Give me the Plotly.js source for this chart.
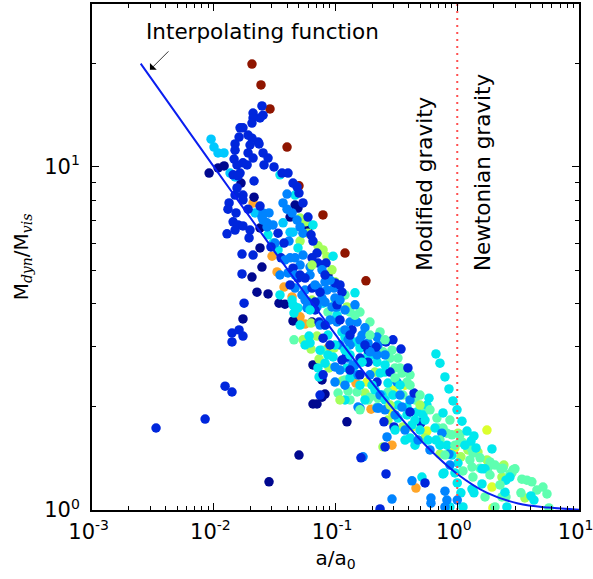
<!DOCTYPE html>
<html><head><meta charset="utf-8">
<script src="https://cdn.plot.ly/plotly-3.0.1.min.js"></script>
<style>html,body{margin:0;padding:0;background:#fff}</style></head>
<body><div id="chart" style="width:593px;height:579px"></div>
<script>
// all values are log10 of a/a0 (A) and of Mdyn/Mvis (M)
const redA=[-1.686,-1.612,-1.538,-1.398,-1.300,-1.103,-.922,-.750];
const redM=[1.300,1.239,1.169,1.058,.945,.860,.749,.668];
const orangeA=[-1.677,-1.521,-1.480,-1.423,-1.357,-1.291,-1.250,-1.062,-.832,-.708,-.536,-.339];
const orangeM=[.895,.740,.694,.650,.621,.563,.542,.472,.370,.294,.189,.064];
const navyA=[-2.038,-1.964,-1.915,-1.776,-1.669,-1.332,-1.308,-1.373,-1.620,-1.620,-1.604,-1.686,-1.645,-1.554,-1.464,-1.415,-1.760,-1.349,-1.185,-1.111,-1.086,-1.111,-1.185,-1.152,-1.300,-1.546,-1.226,-1.226,-1.062,-.906,-1.193];
const navyM=[.982,.997,1.003,.953,.912,.889,.880,.854,.822,.764,.708,.679,.635,.630,.603,.600,.557,.551,.423,.379,.338,.329,.309,.309,.160,.082,.603,.822,.685,.257,.548];
const limeA=[-1.291,-1.250,-1.291,-1.144,-1.102,-1.070,-1.029,-1.004,-1.226,-1.193,-.906,-1.267,-1.201,-1.201,-1.152,-1.012,-1.135,-1.053,-.947,-.758,-.569,-.446,-.676,-.265,-.610,.375,.367,.556,.030,.088,.170,.244,.383,-.142,.006];
const limeM=[.851,.840,.784,.770,.758,.738,.700,.665,.807,.612,.592,.496,.545,.469,.507,.472,.440,.414,.376,.341,.262,.242,.402,.210,.184,.128,.096,.035,.155,.175,.169,.146,.131,.163,.224];
const yellowA=[-.528,-.536,-.372,-.249,-.741,-.429,-.019,.244,.285,.293,.039];
const yellowM=[.350,.286,.242,.230,.373,.364,.181,.233,.067,.006,.198];
const tealA=[-1.341,-1.111,-.979,-.897,-.823,-.733,-.659,-.881,-1.062,-.610,-.552,-.487,-.511,-.454,-.413,-.446,-.347,-.282,-.167,-.117,-.044,-.470,-.717,-.651,-.159,.039,.228,.367,.523,.531,.572,.613,.654,.704,.737,.753,.310,.458,.433,.129,.375,-.117,.113,.129,.187,.121,.187,.047,.252,.269,.310,.359,.449,.474,-.085,.022,.022,.400,-.799,-.717,-.634,-.922,-1.004,-.536,-.388,-.922,-.569];
const tealM=[.496,.466,.341,.347,.344,.321,.300,.577,.577,.461,.443,.443,.414,.399,.373,.335,.321,.300,.268,.239,.219,.414,.329,.326,.239,.198,.038,.038,.050,.090,.087,.082,.058,.067,.047,.006,.009,.117,.105,.096,.122,.233,.181,.166,.152,.125,.122,.114,.122,.140,.131,.120,.108,.120,.224,.198,.219,.038,.577,.548,.519,.627,.612,.466,.394,.379,.344];
const skyA=[-2.022,-1.998,-1.965,-1.916,-1.866,-1.825,-1.661,-1.431,-1.373,-1.349];
const skyM=[1.081,1.058,1.041,1.041,.982,.971,.866,.837,.810,.810];
const cyanA=[-1.456,-1.332,-1.185,-1.554,-1.308,-1.472,-1.020,-1.513,-.840,-1.456,-1.357,-1.332,-1.349,-1.341,-1.308,-1.217,-1.062,-1.020,-1.144,-1.135,-1.086,-.947,-.922,-.848,-.799,-.733,-.856,-.823,-.881,-.988,-1.102,-1.209,-1.062,-.906,-.175,-.142,-.101,-.068,-.035,-.002,.039,-.232,-.117,-.282,-.085,-.388,-.347,-.487,-.528,-.593,-.634,-.676,-.618,-.331,-.413,-.487,-.733,-.659,-.700,-.249,.080,-.183,-.413,-.569,-.290,-.076,.129,.408,.047,.000,.030,-.109,.203,.392,.630,.285,.137,.113,.154,.203,.228,.400,.433,.121,.137,.605,-.117,-.019,-.044,.006,-.060];
const cyanM=[.977,.918,.831,.802,.764,.758,.740,.778,.633,.627,.612,.592,.598,.574,.589,.507,.452,.446,.414,.388,.428,.519,.504,.490,.472,.452,.414,.394,.385,.568,.603,.487,.510,.414,.455,.428,.388,.353,.318,.292,.259,.326,.283,.277,.189,.210,.189,.306,.335,.402,.399,.350,.335,.286,.277,.268,.472,.431,.452,.306,.230,.239,.300,.370,.096,.009,.058,.009,.009,.079,.050,.108,.076,.052,.029,.178,.216,.201,.181,.120,.120,.087,.096,.061,.050,.041,.105,.108,.160,.137,.009];
const azureA=[-1.398,-1.431,-1.398,-1.357,-1.316,-1.291,-1.267,-1.595,-1.546,-1.595,-1.562,-1.513,-1.604,-1.562,-1.382,-1.497,-1.267,-1.332,-1.373,-1.390,-1.209,-1.209,-1.086,-1.332,-1.275,-1.226,-1.144,-1.070,-1.012,-1.004,-1.086,-1.152,-1.029,-1.234,-.988,-1.152,-1.004,-1.004,-.856,-.988,-.881,-.823,-.782,-.733,-.659,-.897,-.651,-.659,-.815,-1.004,-.577,-.717,-.659,-.643,-.495,-.388,-.799,-.126,-.454,-.536,-.216,-.216,.000,-.774,-.372,-.068,-.101,-.085,-.101,-.060,-.922,-.840,-.897,-.758,-.593,-.815,-.634,-1.291,-1.250,-1.111];
const azureM=[.921,.895,.877,.866,.845,.825,.807,.866,.866,.845,.825,.831,.854,.837,.784,.778,.743,.735,.735,.691,.708,.685,.665,.647,.627,.606,.647,.641,.647,.618,.606,.592,.592,.589,.592,.603,.592,.373,.423,.548,.548,.548,.510,.487,.504,.443,.481,.452,.300,.417,.213,.394,.297,.297,.373,.321,.297,.224,.300,.032,.035,.020,.029,.155,.085,.163,.055,.029,.009,.131,.583,.598,.496,.531,.452,.394,.335,.714,.641,.618];
const blueA=[-1.604,-1.677,-1.595,-1.620,-1.677,-1.686,-1.784,-1.760,-1.792,-1.718,-1.686,-1.636,-1.628,-1.825,-1.825,-1.702,-1.718,-1.677,-1.595,-1.554,-1.587,-1.505,-1.833,-1.726,-1.760,-1.809,-1.784,-1.841,-1.800,-1.669,-1.439,-1.390,-1.349,-1.316,-1.300,-1.267,-1.809,-1.825,-1.760,-1.760,-1.718,-1.874,-1.883,-1.817,-1.620,-1.841,-1.800,-1.760,-1.825,-1.891,-1.702,-1.710,-1.768,-1.677,-1.768,-1.751,-1.850,-1.792,-1.760,-1.850,-1.907,-1.850,-2.071,-2.474,-1.226,-1.201,-1.185,-1.152,-1.447,-1.193,-1.144,-1.078,-1.349,-1.308,-1.250,-1.193,-1.127,-.947,-1.004,-1.168,-1.472,-1.423,-1.530,-1.168,-1.135,-1.102,-.947,-.799,-.733,-1.102,-1.127,-.988,-.864,-.659,-.914,-.462,-.405,-.552,-.355,-.298,-.520,-.602,-.593,-.388,-.733,-.667,-.585,-.528,-.265,-.585,-.791,-.634];
const blueM=[1.178,1.157,1.151,1.143,1.143,1.128,1.114,1.114,1.087,1.093,1.084,1.073,1.067,1.067,1.049,1.064,1.041,1.026,1.041,1.026,1.006,1.000,1.023,1.006,1.012,1.006,.982,.977,.974,.959,.982,.982,.953,.942,.924,.895,.939,.918,.918,.904,.877,.895,.877,.866,.886,.840,.831,.828,.816,.805,.816,.793,.746,.743,.688,.603,.516,.525,.507,.490,.361,.344,.265,.239,.854,.802,.784,.749,.735,.735,.720,.720,.705,.676,.676,.647,.635,.635,.662,.606,.807,.778,.767,.583,.548,.501,.437,.443,.431,.394,.335,.598,.525,.373,.446,.469,.414,.402,.341,.254,.242,.257,.184,.286,.466,.475,.490,.496,.079,.105,.152,.003];
// second layer, drawn over the first
const blue2A=[-1.086,-1.045,-.881,-.963,-.758,-1.373,-1.086,-.963,-.799,-.881,-1.291];
const blue2M=[.539,.481,.510,.554,.481,.656,.685,.656,.394,.408,.685];
const teal2A=[-.840,-.717,-.593,-.511,-.388,-.306,-.224,-.142,-.060,-.881,-.799,.104,.269,.351,-.019,-.101];
const teal2M=[.568,.510,.496,.385,.364,.335,.292,.204,.262,.321,.292,.146,.102,.073,.189,.160];
const lime2A=[-1.193,-.963,-.552,-.306];
const lime2M=[.714,.321,.306,.306];
const azure2A=[-.922,-.963,-1.045,-1.127,-.963,-.881,-.799,-.717,-.840,-.922,-.963,-1.045,-1.111,-1.168,-1.250,-1.332,-1.415,-1.456,-.470,-.593,-.511,-.322,-.224,-.429];
const azure2M=[.525,.481,.554,.539,.612,.481,.496,.461,.423,.364,.408,.670,.700,.656,.612,.685,.729,.685,.335,.292,.277,.204,.175,.233];
const cyan2A=[-.881,-.782,-.700,-.593,-.511,-.429,-.372,-.306,-.240,-.175,-.265,-.922,-.799,-1.250,-1.004,-.758,-.922,-1.127,-1.291,-1.209,-1.086,-.593,-.470,-.347,-.142,.063];
const cyan2M=[.452,.431,.364,.321,.233,.204,.248,.233,.204,.204,.262,.466,.364,.481,.481,.321,.321,.466,.539,.583,.539,.423,.364,.262,.189,.189];
const curveA=[-2.6,-2.3,-2,-1.75,-1.5,-1.25,-1,-.75,-.5,-.25,0,.25,.5,.75,1];
const curveM=[1.301,1.151,1.001,.877,.753,.631,.511,.394,.284,.185,.105,.049,.019,.007,.001];
const boundaryA=[0,0];
const boundaryM=[0,1.475];
const sup=s=>'10<sup><span style="font-size:14px">'+s+'</span></sup>';
const xTickVals=[0.001,0.01,0.1,1,10];
const xTickText=['-3','-2','-1','0','1'].map(s=>sup(s)+'\u00a0');
const yTickVals=[1,10];
const yTickText=['0','1'].map(sup);
const tickFont={family:'DejaVu Sans',size:21,color:'#000'};
const titleFont={family:'DejaVu Sans',size:20,color:'#000'};
const pow=a=>a.map(v=>Math.pow(10,v));
const dots=(a,m,c)=>({type:'scatter',mode:'markers',x:pow(a),y:pow(m),hoverinfo:'skip',
  marker:{color:c,size:9.5,line:{width:0}}});
const traces=[
 dots(redA,redM,'#8f1500'),
 dots(orangeA,orangeM,'#ffa528'),
 dots(navyA,navyM,'#00088f'),
 dots(yellowA,yellowM,'#dcff2d'),
 dots(limeA,limeM,'#a4ff5a'),
 dots(tealA,tealM,'#5fffb0'),
 dots(skyA,skyM,'#00c8ff'),
 dots(cyanA,cyanM,'#00e8ee'),
 dots(azureA,azureM,'#0084ff'),
 dots(blueA,blueM,'#0026dc'),
 dots(teal2A,teal2M,'#5fffb0'),
 dots(azure2A,azure2M,'#0084ff'),
 dots(cyan2A,cyan2M,'#00e8ee'),
 dots(blue2A,blue2M,'#0026dc'),
 dots(lime2A,lime2M,'#a4ff5a'),
 {type:'scatter',mode:'lines',x:pow(curveA),y:pow(curveM),hoverinfo:'skip',
  line:{color:'#0a1ef0',width:2,shape:'spline'}},
 {type:'scatter',mode:'lines',x:pow(boundaryA),y:pow(boundaryM),hoverinfo:'skip',
  line:{color:'#ff5050',width:2,dash:'2px,5px'}}
];
const minor={ticks:'inside',ticklen:4,tickwidth:1,tickcolor:'#000',dtick:'D1',showgrid:false};
const axis={type:'log',showgrid:false,zeroline:false,showline:true,linecolor:'#000',linewidth:2,mirror:'ticks',
  ticks:'inside',ticklen:7,tickwidth:1,tickcolor:'#000',tickfont:tickFont,minor:minor,tickmode:'array',ticklabeloverflow:'allow'};
const note=(x,y,text,extra)=>Object.assign({xref:'paper',yref:'paper',x,y,text,showarrow:false,
  font:{family:'DejaVu Sans',size:21.5,color:'#000'}},extra||{});
const layout={width:593,height:579,margin:{l:92,r:14,t:4,b:69},paper_bgcolor:'#fff',plot_bgcolor:'#fff',showlegend:false,
 xaxis:Object.assign({},axis,{range:[-3,1],tickvals:xTickVals,ticktext:xTickText,ticklabelstandoff:2,title:{text:'a/a<sub>0</sub>',font:titleFont,standoff:8}}),
 yaxis:Object.assign({},axis,{range:[0,1.475],tickvals:yTickVals,ticktext:yTickText,ticklabelstandoff:6,title:{text:"M<sub><i style=\"font-family:'DejaVu Serif'\">dyn</i></sub>/M<sub><i style=\"font-family:'DejaVu Serif'\">vis</i></sub>",font:titleFont,standoff:10}}),
 annotations:[
  note(0.351,0.946,'Interpolating function',{xanchor:'center',yanchor:'middle'}),
  {xref:'x',yref:'y',x:-2.524,y:1.283,ax:20,ay:-20,axref:'pixel',ayref:'pixel',text:'',showarrow:true,arrowhead:1,arrowsize:2,arrowwidth:0.8,arrowcolor:'#000'},
  note(0.683,0.644,'Modified gravity',{textangle:-90,xanchor:'center',yanchor:'middle'}),
  note(0.803,0.668,'Newtonian gravity',{textangle:-90,xanchor:'center',yanchor:'middle'})
 ]};
Plotly.newPlot('chart',traces,layout,{displayModeBar:false,staticPlot:true});
</script></body></html>
